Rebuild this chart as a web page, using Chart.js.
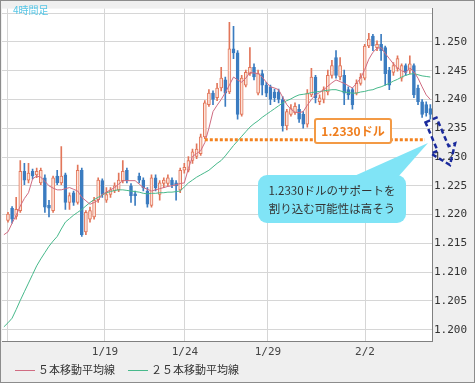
<!DOCTYPE html>
<html><head><meta charset="utf-8">
<script src="https://cdn.jsdelivr.net/npm/chart.js@4.4.0/dist/chart.umd.min.js"></script>
<style>html,body{margin:0;padding:0;background:#fff;overflow:hidden}canvas{display:block}</style>
</head><body>
<canvas id="c" width="475" height="383"></canvas>
<script>
// 4-hour EUR/USD-style candles, index 0..103 (left to right)
const open = [1.2190,1.2211,1.2197,1.2207,1.2275,1.2260,1.2275,1.2269,1.2255,1.2264,
1.2216,1.2207,1.2267,1.2255,1.2269,1.2221,1.2238,1.2221,1.2277,1.2170,
1.2192,1.2196,1.2226,1.2259,1.2225,1.2235,1.2241,1.2243,1.2259,1.2277,
1.2250,1.2236,1.2267,1.2260,1.2241,1.2216,1.2264,1.2235,1.2254,1.2254,
1.2260,1.2255,1.2243,1.2277,1.2277,1.2294,1.2301,1.2306,1.2335,1.2391,
1.2411,1.2403,1.2420,1.2434,1.2413,1.2488,1.2481,1.2374,1.2425,1.2445,
1.2456,1.2411,1.2445,1.2425,1.2422,1.2413,1.2413,1.2400,1.2354,1.2374,
1.2377,1.2383,1.2374,1.2357,1.2408,1.2439,1.2396,1.2400,1.2413,1.2442,
1.2473,1.2439,1.2442,1.2417,1.2417,1.2411,1.2428,1.2437,1.2493,1.2510,
1.2490,1.2496,1.2490,1.2451,1.2447,1.2454,1.2437,1.2459,1.2451,1.2459,
1.2420,1.2396,1.2391,1.2384];
const high = [1.2204,1.2214,1.2230,1.2294,1.2289,1.2289,1.2279,1.2281,1.2281,1.2269,
1.2225,1.2267,1.2277,1.2318,1.2272,1.2238,1.2241,1.2286,1.2281,1.2207,
1.2213,1.2230,1.2264,1.2262,1.2247,1.2247,1.2255,1.2272,1.2294,1.2281,
1.2254,1.2241,1.2272,1.2264,1.2247,1.2269,1.2269,1.2259,1.2264,1.2269,
1.2264,1.2259,1.2281,1.2289,1.2301,1.2314,1.2323,1.2340,1.2398,1.2417,
1.2415,1.2428,1.2456,1.2439,1.2534,1.2527,1.2485,1.2442,1.2451,1.2490,
1.2462,1.2451,1.2451,1.2430,1.2425,1.2418,1.2418,1.2405,1.2383,1.2391,
1.2394,1.2391,1.2379,1.2417,1.2454,1.2442,1.2408,1.2422,1.2451,1.2468,
1.2485,1.2473,1.2451,1.2422,1.2420,1.2434,1.2445,1.2496,1.2515,1.2513,
1.2502,1.2513,1.2493,1.2456,1.2464,1.2476,1.2462,1.2462,1.2476,1.2462,
1.2425,1.2400,1.2396,1.2391];
const low = [1.2187,1.2185,1.2192,1.2204,1.2252,1.2255,1.2262,1.2264,1.2252,1.2204,
1.2196,1.2204,1.2252,1.2252,1.2209,1.2209,1.2216,1.2218,1.2162,1.2165,
1.2187,1.2192,1.2221,1.2230,1.2221,1.2230,1.2238,1.2240,1.2255,1.2255,
1.2221,1.2216,1.2255,1.2241,1.2213,1.2213,1.2241,1.2225,1.2247,1.2250,
1.2247,1.2225,1.2238,1.2272,1.2274,1.2289,1.2297,1.2303,1.2332,1.2388,
1.2391,1.2398,1.2415,1.2388,1.2410,1.2471,1.2366,1.2371,1.2422,1.2442,
1.2434,1.2408,1.2408,1.2405,1.2391,1.2396,1.2394,1.2345,1.2347,1.2371,
1.2374,1.2360,1.2350,1.2352,1.2405,1.2394,1.2391,1.2394,1.2408,1.2437,
1.2437,1.2434,1.2391,1.2400,1.2383,1.2408,1.2425,1.2434,1.2490,1.2485,
1.2485,1.2468,1.2425,1.2417,1.2442,1.2449,1.2432,1.2442,1.2445,1.2403,
1.2391,1.2369,1.2371,1.2366];
const close = [1.2201,1.2192,1.2209,1.2275,1.2260,1.2272,1.2267,1.2275,1.2277,1.2213,
1.2211,1.2264,1.2255,1.2267,1.2221,1.2233,1.2221,1.2277,1.2165,1.2204,
1.2207,1.2225,1.2260,1.2235,1.2235,1.2243,1.2250,1.2260,1.2275,1.2259,
1.2233,1.2233,1.2260,1.2247,1.2218,1.2264,1.2247,1.2255,1.2260,1.2264,
1.2252,1.2250,1.2277,1.2282,1.2294,1.2309,1.2314,1.2335,1.2394,1.2411,
1.2400,1.2420,1.2437,1.2411,1.2488,1.2481,1.2374,1.2437,1.2447,1.2456,
1.2439,1.2445,1.2425,1.2411,1.2400,1.2403,1.2400,1.2354,1.2379,1.2384,
1.2388,1.2366,1.2357,1.2411,1.2439,1.2403,1.2403,1.2417,1.2442,1.2459,
1.2442,1.2459,1.2411,1.2408,1.2391,1.2428,1.2439,1.2493,1.2505,1.2493,
1.2496,1.2485,1.2445,1.2425,1.2459,1.2471,1.2459,1.2447,1.2462,1.2408,
1.2396,1.2374,1.2377,1.2374];

// moving averages, starting one candle before the first visible candle (index -1)
const maStart = -1;
const ma5 = [1.2165,
1.2170,1.2185,1.2199,1.2215,1.2228,1.2238,1.2262,1.2267,1.2265,1.2258,
1.2250,1.2246,1.2243,1.2243,1.2245,1.2247,1.2244,1.2241,1.2230,1.2224,
1.2218,1.2221,1.2225,1.2235,1.2239,1.2243,1.2247,1.2253,1.2259,1.2259,
1.2259,1.2259,1.2253,1.2247,1.2244,1.2241,1.2243,1.2245,1.2247,1.2249,
1.2250,1.2252,1.2254,1.2255,1.2280,1.2301,1.2306,1.2311,1.2325,1.2350,
1.2379,1.2390,1.2400,1.2412,1.2425,1.2439,1.2434,1.2430,1.2437,1.2447,
1.2446,1.2445,1.2439,1.2430,1.2422,1.2420,1.2417,1.2404,1.2391,1.2383,
1.2378,1.2377,1.2379,1.2390,1.2400,1.2408,1.2412,1.2417,1.2423,1.2429,
1.2434,1.2431,1.2428,1.2424,1.2420,1.2428,1.2437,1.2452,1.2470,1.2482,
1.2489,1.2490,1.2480,1.2471,1.2462,1.2455,1.2450,1.2447,1.2455,1.2448,
1.2437,1.2422,1.2408,1.2400];
const ma25 = [1.2005,
1.2012,1.2020,1.2035,1.2051,1.2066,1.2081,1.2096,1.2111,1.2123,1.2134,
1.2145,1.2154,1.2162,1.2175,1.2187,1.2193,1.2199,1.2204,1.2209,1.2215,
1.2221,1.2226,1.2230,1.2234,1.2238,1.2240,1.2242,1.2243,1.2243,1.2242,
1.2241,1.2240,1.2239,1.2237,1.2236,1.2237,1.2237,1.2238,1.2238,1.2239,
1.2239,1.2240,1.2241,1.2248,1.2255,1.2260,1.2265,1.2269,1.2273,1.2277,
1.2283,1.2289,1.2294,1.2302,1.2311,1.2320,1.2328,1.2336,1.2344,1.2352,
1.2358,1.2363,1.2369,1.2374,1.2379,1.2384,1.2389,1.2394,1.2398,1.2401,
1.2405,1.2408,1.2409,1.2410,1.2412,1.2413,1.2414,1.2415,1.2416,1.2417,
1.2417,1.2415,1.2413,1.2412,1.2411,1.2411,1.2413,1.2414,1.2416,1.2417,
1.2420,1.2422,1.2425,1.2428,1.2432,1.2435,1.2439,1.2442,1.2444,1.2445,
1.2443,1.2441,1.2440,1.2439];

// support level and its span (candle index)
const supportLevel = 1.2330;
const supportSpan = [48, 101.7];

// axis ticks
const xTickLabels = ['', '1/19', '1/24', '1/29', '2/2'];
const xTickPos = [-0.24, 23.66, 43.17, 63.41, 87.07];
const yTickValues = [1.200,1.205,1.210,1.215,1.220,1.225,1.230,1.235,1.240,1.245,1.250,1.255];
const yTickLabels = ['1.200','1.205','1.210','1.215','1.220','1.225','1.230','1.235','1.240','1.245','1.250',''];

const legendLabels = ['５本移動平均線', '２５本移動平均線'];
const titleText = '4時間足';
const supportText = '1.2330ドル';
const noteLines = ['1.2330ドルのサポートを', '割り込む可能性は高そう'];

const UP_FILL = '#fde4da', UP_LINE = '#e2765a', DN = '#3b7cc0';
const MA5_COLOR = '#d06c82', MA25_COLOR = '#47b98b';
const isUp = open.map((o, i) => close[i] >= o);

const deco = {
  id: 'deco',
  beforeDraw(chart) {
    const c = chart.ctx, a = chart.chartArea;
    c.save();
    c.fillStyle = '#efefef';
    c.fillRect(0, 0, chart.width, chart.height);
    c.fillStyle = '#ffffff';
    c.fillRect(a.left, a.top, a.right - a.left, a.bottom - a.top);
    c.restore();
  },
  afterDraw(chart) {
    const c = chart.ctx;
    c.save();
    // outer frame
    c.strokeStyle = '#8c8c8c'; c.lineWidth = 1;
    c.strokeRect(0.5, 0.5, chart.width - 1, chart.height - 1);
    // title
    c.fillStyle = '#55c6e6';
    c.font = '10px "Noto Sans CJK JP"';
    c.textBaseline = 'middle'; c.textAlign = 'left';
    c.fillText(titleText, 13, 10);
    // legend
    c.font = '11px "Noto Sans CJK JP"';
    c.fillStyle = '#333';
    c.lineWidth = 1;
    c.strokeStyle = MA5_COLOR;
    c.beginPath(); c.moveTo(15, 370.5); c.lineTo(35, 370.5); c.stroke();
    c.fillText(legendLabels[0], 38, 370);
    c.strokeStyle = MA25_COLOR;
    c.beginPath(); c.moveTo(128, 370.5); c.lineTo(148, 370.5); c.stroke();
    c.fillText(legendLabels[1], 151, 370);
    // support box
    c.fillStyle = '#fff';
    c.strokeStyle = '#f39a45'; c.lineWidth = 2;
    c.beginPath(); c.roundRect(315, 119, 76, 24, 2); c.fill(); c.stroke();
    c.fillStyle = '#ef7d1c';
    c.font = 'bold 12px "Noto Sans CJK JP"';
    c.textAlign = 'center';
    c.fillText(supportText, 353, 131);
    // speech bubble
    c.fillStyle = '#80e4f6';
    c.beginPath(); c.roundRect(258, 175, 148, 48, 9); c.fill();
    c.beginPath(); c.moveTo(352, 177); c.lineTo(398, 177); c.lineTo(428, 143); c.closePath(); c.fill();
    c.fillStyle = '#333';
    c.font = '11.5px "Noto Sans CJK JP"';
    c.fillText(noteLines[0], 332, 191);
    c.fillText(noteLines[1], 332, 209);
    // dashed arrow
    c.strokeStyle = '#1a2a9c'; c.lineWidth = 2.5; c.setLineDash([5, 3]);
    c.beginPath();
    c.moveTo(425.5, 122.3); c.lineTo(436.5, 117.7); c.lineTo(448.6, 146.2); c.lineTo(455.1, 143.4);
    c.lineTo(450, 165); c.lineTo(431.1, 153.6); c.lineTo(437.6, 150.8); c.closePath();
    c.stroke();
    c.restore();
  }
};

new Chart(document.getElementById('c'), {
  type: 'bar',
  data: {
    datasets: [
      { type: 'line', label: 'support', data: supportSpan.map(x => ({ x, y: supportLevel })),
        borderColor: '#f3821f', borderWidth: 3, borderDash: [3, 2], borderCapStyle: 'butt', pointRadius: 0, order: 0 },
      { type: 'line', label: legendLabels[0], data: ma5.map((v, k) => ({ x: k + maStart, y: v })),
        borderColor: MA5_COLOR, borderWidth: 1, pointRadius: 0, tension: 0, order: 1 },
      { type: 'line', label: legendLabels[1], data: ma25.map((v, k) => ({ x: k + maStart, y: v })),
        borderColor: MA25_COLOR, borderWidth: 1, pointRadius: 0, tension: 0, order: 2 },
      { label: 'body', data: open.map((o, i) => ({ x: i, y: [o, close[i]] })),
        backgroundColor: isUp.map(u => u ? UP_FILL : DN), borderColor: isUp.map(u => u ? UP_LINE : DN),
        borderWidth: 1, borderSkipped: false, barThickness: 3, grouped: false, order: 3 },
      { label: 'wick', data: low.map((l, i) => ({ x: i, y: [l, high[i]] })),
        backgroundColor: isUp.map(u => u ? UP_LINE : DN), borderWidth: 0,
        barThickness: 1, grouped: false, order: 4 }
    ]
  },
  options: {
    responsive: false, animation: false, devicePixelRatio: 1,
    layout: { padding: { left: 2, top: 2, right: 0, bottom: 22 } },
    plugins: { legend: { display: false }, tooltip: { enabled: false } },
    scales: {
      x: {
        type: 'linear', min: -1.46, max: 103.41, offset: false,
        afterBuildTicks: s => { s.ticks = xTickPos.map(v => ({ value: v })); },
        afterFit: s => { s.height = 20; },
        grid: { color: '#d6d6d6', drawTicks: false, offset: false },
        border: { color: '#808080' },
        ticks: { autoSkip: false, maxRotation: 0, padding: 5, color: '#444',
          font: { family: 'DejaVu Sans Mono', size: 11 }, callback: (v, i) => xTickLabels[i] }
      },
      y: {
        position: 'right', min: 1.19804, max: 1.25579,
        afterBuildTicks: s => { s.ticks = yTickValues.map(v => ({ value: v })); },
        afterFit: s => { s.width = 43; },
        grid: { color: '#d6d6d6', drawTicks: false },
        border: { color: '#808080' },
        ticks: { padding: 2, color: '#333', font: { family: 'DejaVu Sans Mono', size: 11 },
          callback: (v, i) => yTickLabels[i] }
      }
    }
  },
  plugins: [deco]
});
</script>
</body></html>
